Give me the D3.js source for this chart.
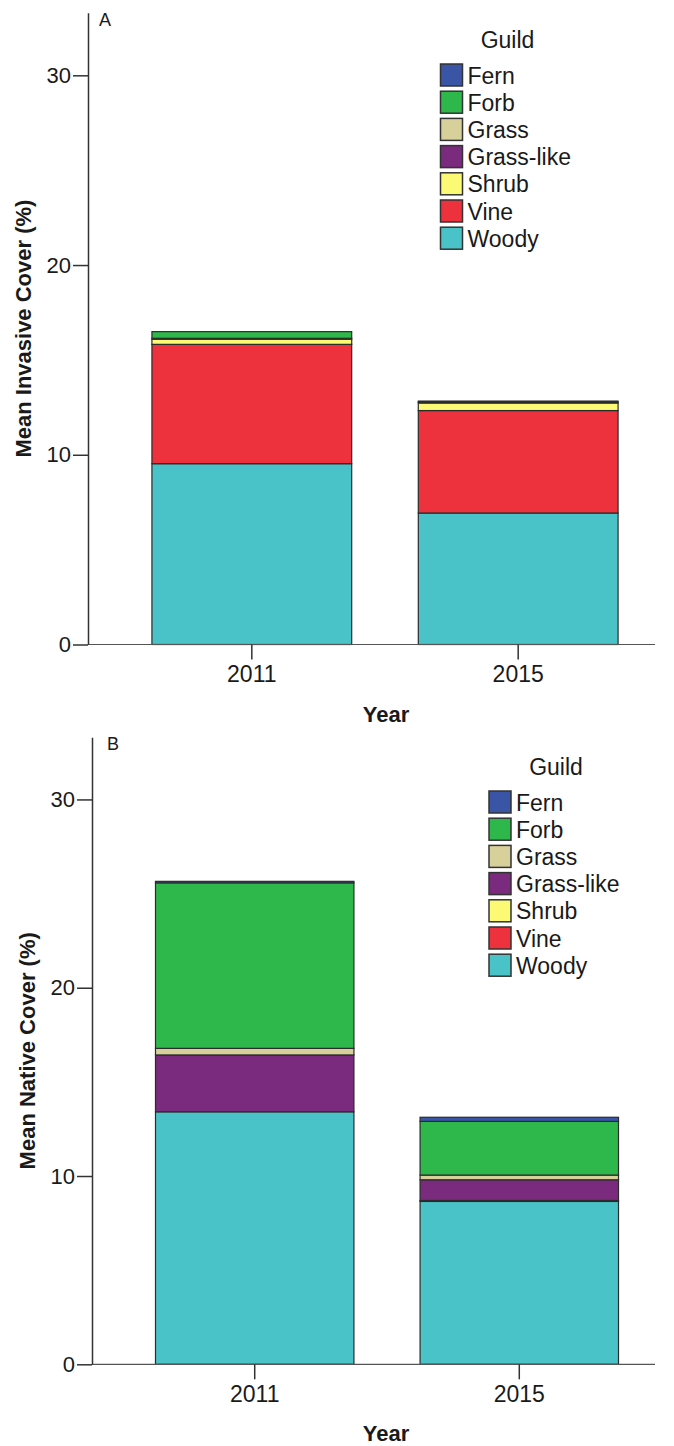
<!DOCTYPE html>
<html>
<head>
<meta charset="utf-8">
<script src="https://cdn.jsdelivr.net/npm/d3@7"></script>
<style>
  body { margin: 0; background: #fff; }
  svg text { font-family: "Liberation Sans", Arial, sans-serif; fill: #1a1a1a; }
</style>
</head>
<body>
<div id="chart"></div>
<script>
// categories
var years = ["2011", "2015"];
var guilds = ["Fern", "Forb", "Grass", "Grass-like", "Shrub", "Vine", "Woody"];
var guildColors = ["#3a55a6", "#2eb84b", "#d7d09b", "#7a2b7e", "#fcfa74", "#ee323d", "#49c3c7"];
var yTicks = [0, 10, 20, 30];

// mean invasive cover (%) per guild, [2011, 2015]
var invFern = [0, 0];
var invForb = [0.35, 0.05];
var invGrass = [0.05, 0.05];
var invGrassLike = [0, 0];
var invShrub = [0.27, 0.4];
var invVine = [6.29, 5.4];
var invWoody = [9.53, 6.93];

// mean native cover (%) per guild, [2011, 2015]
var natFern = [0.08, 0.22];
var natForb = [8.79, 2.85];
var natGrass = [0.35, 0.25];
var natGrassLike = [3.02, 1.1];
var natShrub = [0, 0.05];
var natVine = [0, 0];
var natWoody = [13.41, 8.65];

function rows(fern, forb, grass, grassLike, shrub, vine, woody) {
  return years.map(function(y, i) {
    return { year: y, "Fern": fern[i], "Forb": forb[i], "Grass": grass[i], "Grass-like": grassLike[i],
             "Shrub": shrub[i], "Vine": vine[i], "Woody": woody[i] };
  });
}

var invasive = rows(invFern, invForb, invGrass, invGrassLike, invShrub, invVine, invWoody);
var native = rows(natFern, natForb, natGrass, natGrassLike, natShrub, natVine, natWoody);

var svg = d3.select("#chart").append("svg")
    .attr("width", 674)
    .attr("height", 1446);

var color = d3.scaleOrdinal().domain(guilds).range(guildColors);

//draw one panel
function panel(data, o) {
  var g = svg.append("g");

  var x = d3.scaleBand().domain(years).range([o.left, 682]).paddingInner(0.25).paddingOuter(0.24);
  var y = d3.scaleLinear().domain([0, 33.3]).range([o.bottom, o.top]);

  //stack woody at the bottom, fern on top
  var stack = d3.stack().keys(guilds.slice().reverse());
  var layers = stack(data);

  g.selectAll("g.layer")
    .data(layers)
    .enter().append("g")
      .attr("class", "layer")
      .attr("fill", function(d) { return color(d.key); })
    .selectAll("rect")
    .data(function(d) { return d.filter(function(p) { return p[1] - p[0] > 0; }); })
    .enter().append("rect")
      .attr("x", function(d) { return x(d.data.year); })
      .attr("width", x.bandwidth())
      .attr("y", function(d) { return y(d[1]); })
      .attr("height", function(d) { return y(d[0]) - y(d[1]); })
      .attr("stroke", "#2b2b2b")
      .attr("stroke-width", 1.2);

  //x-axis
  var xa = g.append("g")
    .attr("transform", "translate(0," + o.bottom + ")")
    .call(d3.axisBottom(x).tickSize(15).tickPadding(6).tickSizeOuter(0));
  xa.select(".domain").attr("d", "M" + o.left + ",0H655").attr("stroke", "#555").attr("stroke-width", 1.2);
  xa.selectAll(".tick line").attr("stroke", "#333").attr("stroke-width", 1.5);
  xa.selectAll("text").attr("font-size", 23);

  //y-axis
  var ya = g.append("g")
    .attr("transform", "translate(" + o.left + ",0)")
    .call(d3.axisLeft(y).tickValues(yTicks).tickSize(15).tickPadding(2).tickSizeOuter(0));
  ya.select(".domain").attr("stroke", "#333").attr("stroke-width", 1.5);
  ya.selectAll(".tick line").attr("stroke", "#333").attr("stroke-width", 1.5);
  ya.selectAll("text").attr("font-size", 22);

  //panel letter
  g.append("text")
    .attr("x", o.left + o.letterDx)
    .attr("y", o.top + 13)
    .attr("font-size", 18)
    .text(o.letter);

  //axis titles
  g.append("text")
    .attr("transform", "translate(" + (o.left - 57) + "," + ((o.top + o.bottom) / 2) + ") rotate(-90)")
    .attr("text-anchor", "middle")
    .attr("font-size", 22)
    .attr("font-weight", "bold")
    .text(o.ytitle);

  g.append("text")
    .attr("x", 386)
    .attr("y", o.bottom + 77)
    .attr("text-anchor", "middle")
    .attr("font-size", 22)
    .attr("font-weight", "bold")
    .text("Year");

  //legend
  var lg = g.append("g").attr("transform", "translate(" + o.legX + "," + o.legY + ")");
  lg.append("text")
    .attr("x", 67)
    .attr("y", -16)
    .attr("text-anchor", "middle")
    .attr("font-size", 23)
    .text("Guild");
  var item = lg.selectAll("g.item")
    .data(guilds)
    .enter().append("g")
      .attr("class", "item")
      .attr("transform", function(d, i) { return "translate(0," + (i * 27.2) + ")"; });
  item.append("rect")
    .attr("width", 22)
    .attr("height", 22)
    .attr("fill", function(d) { return color(d); })
    .attr("stroke", "#333")
    .attr("stroke-width", 1.5);
  item.append("text")
    .attr("x", 27)
    .attr("y", 19.5)
    .attr("font-size", 23)
    .text(function(d) { return d; });
}

panel(invasive, { left: 88, top: 12.7, bottom: 644.5, letter: "A", letterDx: 11,
  ytitle: "Mean Invasive Cover (%)", legX: 440.5, legY: 64 });
panel(native, { left: 92, top: 737.3, bottom: 1364.3, letter: "B", letterDx: 15,
  ytitle: "Mean Native Cover (%)", legX: 489, legY: 791 });
</script>
</body>
</html>
